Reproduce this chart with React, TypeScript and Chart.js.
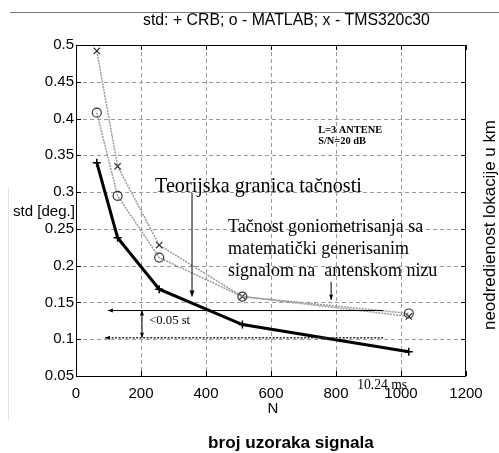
import React, { useEffect, useRef } from 'react';
import { Chart, registerables } from 'chart.js';

Chart.register(...registerables);

// ---- data ----
const samples = [64, 128, 256, 512, 1024];
const crb = [0.34, 0.238, 0.168, 0.12, 0.083];
const matlab = [0.408, 0.295, 0.211, 0.158, 0.135];
const tms = [0.492, 0.335, 0.228, 0.158, 0.131];
const xTicks = [0, 200, 400, 600, 800, 1000, 1200];
const yTicks = [0.05, 0.1, 0.15, 0.2, 0.25, 0.3, 0.35, 0.4, 0.45, 0.5];

// ---- texts ----
const TITLE = 'std: + CRB; o - MATLAB; x - TMS320c30';
const Y_LABEL = 'std [deg.]';
const X_LABEL = 'N';
const BOTTOM_LABEL = 'broj uzoraka signala';
const RIGHT_LABEL = 'neodredienost lokacije u km';
const THEORY = 'Teorijska granica tačnosti';
const ACCURACY = ['Tačnost goniometrisanja sa', 'matematički generisanim', 'signalom na  antenskom nizu'];
const DIFF = '<0.05 st';
const PARAMS = ['L=3 ANTENE', 'S/N=20 dB'];
const TIME = '10.24 ms';

const SANS = '"Liberation Sans", Arial, sans-serif';
const SERIF = '"Liberation Serif", "Times New Roman", serif';

function fitFont(ctx: CanvasRenderingContext2D, text: string, width: number, family: string, weight = '') {
  ctx.font = `${weight} 10px ${family}`;
  const w = ctx.measureText(text).width;
  const size = (10 * width) / w;
  return `${weight} ${size.toFixed(2)}px ${family}`;
}

function arrowHead(ctx: CanvasRenderingContext2D, x1: number, y1: number, x2: number, y2: number, len = 6, half = 2.5) {
  const a = Math.atan2(y2 - y1, x2 - x1);
  ctx.save();
  ctx.translate(x2, y2);
  ctx.rotate(a);
  ctx.beginPath();
  ctx.moveTo(0, 0);
  ctx.lineTo(-len, -half);
  ctx.lineTo(-len, half);
  ctx.closePath();
  ctx.fill();
  ctx.restore();
}

const gridPlugin = {
  id: 'dotGrid',
  beforeDatasetsDraw(chart: any) {
    const { ctx, chartArea: ca, scales } = chart;
    ctx.save();
    ctx.strokeStyle = '#9a9a9a';
    ctx.lineWidth = 1;
    ctx.setLineDash([4, 3]);
    ctx.beginPath();
    xTicks.slice(1, -1).forEach((t) => {
      const x = Math.round(scales.x.getPixelForValue(t)) + 0.5;
      ctx.moveTo(x, ca.top);
      ctx.lineTo(x, ca.bottom);
    });
    yTicks.slice(1, -1).forEach((t) => {
      const y = Math.round(scales.y.getPixelForValue(t)) + 0.5;
      ctx.moveTo(ca.left, y);
      ctx.lineTo(ca.right, y);
    });
    ctx.stroke();
    ctx.restore();
  },
};

const decorPlugin = {
  id: 'decor',
  afterDraw(chart: any) {
    const { ctx, chartArea: ca, scales } = chart;
    const xs = scales.x;
    const ys = scales.y;
    const px = (v: number) => xs.getPixelForValue(v);
    const py = (v: number) => ys.getPixelForValue(v);

    ctx.save();

    // frame
    ctx.strokeStyle = '#000';
    ctx.lineWidth = 1;
    ctx.setLineDash([]);
    ctx.strokeRect(ca.left + 0.5, ca.top + 0.5, ca.right - ca.left - 1, ca.bottom - ca.top);

    // inward ticks
    ctx.beginPath();
    xTicks.forEach((t) => {
      const x = Math.round(px(t)) + 0.5;
      ctx.moveTo(x, ca.bottom);
      ctx.lineTo(x, ca.bottom - 5);
      ctx.moveTo(x, ca.top);
      ctx.lineTo(x, ca.top + 5);
    });
    yTicks.forEach((t) => {
      const y = Math.round(py(t)) + 0.5;
      ctx.moveTo(ca.left, y);
      ctx.lineTo(ca.left + 5, y);
      ctx.moveTo(ca.right, y);
      ctx.lineTo(ca.right - 5, y);
    });
    ctx.stroke();

    // page decorations
    ctx.strokeStyle = '#777';
    ctx.beginPath();
    ctx.moveTo(10, 12.5);
    ctx.lineTo(499, 12.5);
    ctx.stroke();
    ctx.strokeStyle = '#e2e2e2';
    ctx.beginPath();
    ctx.moveTo(8.5, 187);
    ctx.lineTo(8.5, 420);
    ctx.stroke();

    ctx.fillStyle = '#000';
    ctx.textBaseline = 'middle';

    // title
    ctx.textAlign = 'left';
    ctx.font = fitFont(ctx, TITLE, 287, SANS);
    ctx.fillText(TITLE, 143, 21);

    // y label
    ctx.font = fitFont(ctx, Y_LABEL, 62, SANS);
    ctx.fillText(Y_LABEL, 13, 212);

    // x label
    ctx.textAlign = 'center';
    ctx.font = `15px ${SANS}`;
    ctx.fillText(X_LABEL, 273, 409);

    // bottom label
    ctx.textAlign = 'left';
    ctx.font = fitFont(ctx, BOTTOM_LABEL, 166, SANS, 'bold');
    ctx.fillText(BOTTOM_LABEL, 208, 443);

    // right label
    ctx.save();
    ctx.translate(490, 225);
    ctx.rotate(-Math.PI / 2);
    ctx.textAlign = 'center';
    ctx.font = fitFont(ctx, RIGHT_LABEL, 210, SANS);
    ctx.fillText(RIGHT_LABEL, 0, 0);
    ctx.restore();

    // theory text + arrow
    ctx.textAlign = 'left';
    ctx.font = fitFont(ctx, THEORY, 207, SERIF);
    ctx.fillText(THEORY, px(243), py(0.307));
    ctx.strokeStyle = '#000';
    ctx.lineWidth = 1;
    ctx.beginPath();
    ctx.moveTo(px(357), py(0.299));
    ctx.lineTo(px(357), py(0.158));
    ctx.stroke();
    arrowHead(ctx, px(357), py(0.299), px(357), py(0.158));

    // accuracy text + arrow
    ctx.font = fitFont(ctx, ACCURACY[0], 195, SERIF);
    const accY = [0.2527, 0.2228, 0.193];
    ACCURACY.forEach((t, i) => ctx.fillText(t, px(468), py(accY[i])));
    ctx.beginPath();
    ctx.moveTo(px(785), py(0.178));
    ctx.lineTo(px(785), py(0.1535));
    ctx.stroke();
    arrowHead(ctx, px(785), py(0.178), px(785), py(0.1535), 5, 2);

    // horizontal reference lines
    ctx.beginPath();
    ctx.moveTo(px(945), py(0.139));
    ctx.lineTo(px(98), py(0.139));
    ctx.stroke();
    arrowHead(ctx, px(945), py(0.139), px(98), py(0.139), 5, 2);
    ctx.setLineDash([2, 1.5]);
    ctx.lineWidth = 1.3;
    ctx.strokeStyle = '#333';
    ctx.beginPath();
    ctx.moveTo(px(945), py(0.102));
    ctx.lineTo(px(89), py(0.102));
    ctx.stroke();
    ctx.setLineDash([]);
    ctx.lineWidth = 1;
    ctx.strokeStyle = '#000';
    arrowHead(ctx, px(945), py(0.102), px(89), py(0.102), 5, 2);

    // double arrow
    ctx.beginPath();
    ctx.moveTo(px(203), py(0.139));
    ctx.lineTo(px(203), py(0.102));
    ctx.stroke();
    arrowHead(ctx, px(203), py(0.12), px(203), py(0.139), 5, 2);
    arrowHead(ctx, px(203), py(0.12), px(203), py(0.102), 5, 2);

    ctx.font = fitFont(ctx, DIFF, 41, SERIF);
    ctx.fillText(DIFF, px(225), py(0.125));

    // params
    ctx.font = fitFont(ctx, PARAMS[0], 64, SERIF, 'bold');
    ctx.fillText(PARAMS[0], px(745), py(0.3845));
    ctx.fillText(PARAMS[1], px(745), py(0.3696));

    // time
    ctx.font = fitFont(ctx, TIME, 50, SERIF);
    ctx.fillText(TIME, px(865), py(0.0367));

    ctx.restore();
  },
};

export default function App() {
  const ref = useRef<HTMLCanvasElement | null>(null);

  useEffect(() => {
    if (!ref.current) return;
    const chart = new Chart(ref.current, {
      type: 'line',
      data: {
        datasets: [
          {
            label: 'CRB',
            data: samples.map((n, i) => ({ x: n, y: crb[i] })),
            borderColor: '#000',
            borderWidth: 3,
            pointStyle: 'cross',
            pointRadius: 4,
            pointBorderColor: '#000',
            pointBorderWidth: 1.5,
            tension: 0,
            order: 1,
          },
          {
            label: 'MATLAB',
            data: samples.map((n, i) => ({ x: n, y: matlab[i] })),
            borderColor: '#999',
            borderWidth: 1.5,
            borderDash: [2, 1],
            pointStyle: 'circle',
            pointRadius: 4.5,
            pointBackgroundColor: 'rgba(0,0,0,0)',
            pointBorderColor: '#333',
            pointBorderWidth: 1.2,
            tension: 0,
            order: 2,
          },
          {
            label: 'TMS320c30',
            data: samples.map((n, i) => ({ x: n, y: tms[i] })),
            borderColor: '#999',
            borderWidth: 1.5,
            borderDash: [2, 1],
            pointStyle: 'crossRot',
            pointRadius: 4.5,
            pointBorderColor: '#333',
            pointBorderWidth: 1.2,
            tension: 0,
            order: 3,
          },
        ],
      },
      options: {
        animation: false,
        responsive: false,
        devicePixelRatio: 1,
        layout: { padding: { top: 45, right: 33, left: 0, bottom: 0 } },
        plugins: {
          legend: { display: false },
          title: { display: false },
          tooltip: { enabled: false },
        },
        scales: {
          x: {
            type: 'linear',
            min: 0,
            max: 1200,
            afterBuildTicks: (s: any) => {
              s.ticks = xTicks.map((v) => ({ value: v }));
            },
            afterFit: (s: any) => {
              s.height = 77;
            },
            grid: { display: false, drawTicks: false },
            border: { display: false },
            ticks: {
              padding: 9,
              color: '#000',
              font: { family: SANS, size: 15 },
              maxRotation: 0,
              callback: (v: any) => String(v),
            },
          },
          y: {
            type: 'linear',
            min: 0.05,
            max: 0.5,
            afterBuildTicks: (s: any) => {
              s.ticks = yTicks.map((v) => ({ value: v }));
            },
            afterFit: (s: any) => {
              s.width = 76;
            },
            grid: { display: false, drawTicks: false },
            border: { display: false },
            ticks: {
              padding: 2,
              color: '#000',
              font: { family: SANS, size: 15 },
              callback: (v: any) => String(Number(Number(v).toFixed(2))),
            },
          },
        },
      },
      plugins: [gridPlugin, decorPlugin],
    });
    return () => chart.destroy();
  }, []);

  return (
    <div style={{ position: 'absolute', left: 0, top: 0, width: 499, height: 453, background: '#fff' }}>
      <canvas ref={ref} width={499} height={453} style={{ width: 499, height: 453, display: 'block' }} />
    </div>
  );
}
